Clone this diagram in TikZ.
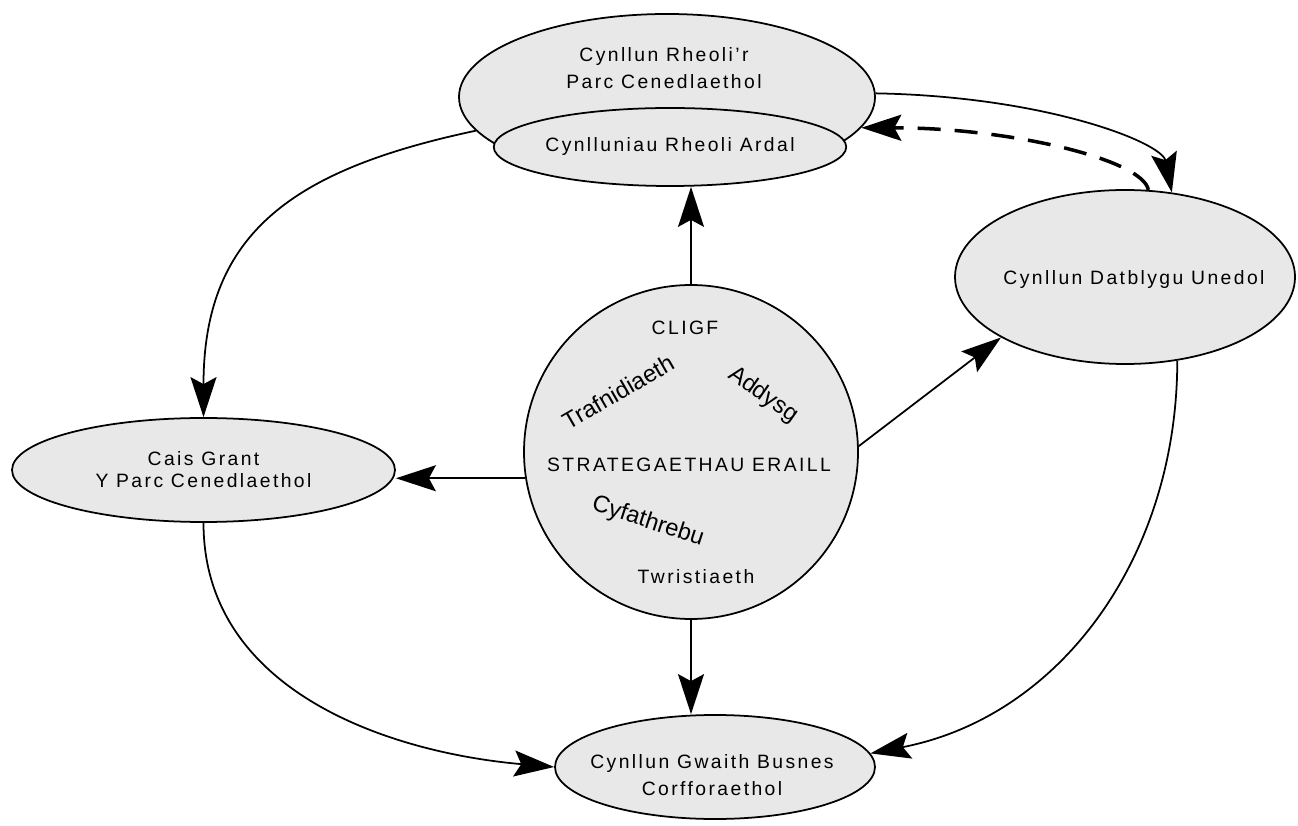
\documentclass[tikz,border=0pt]{standalone}
\usepackage{fontspec}
\setmainfont{Liberation Sans}
\newfontfamily\spacedfont[LetterSpace=12.5]{Liberation Sans}
\usetikzlibrary{shapes.geometric}
\usetikzlibrary{arrows.meta}
\definecolor{bubblegrey}{gray}{0.91}

\begin{document}
\begin{tikzpicture}[x=0.2mm, y=0.2mm,
    bubble/.style={ellipse, draw, fill=bubblegrey, line width=1pt, inner sep=0pt, align=center,
        font=\spacedfont\fontsize{11pt}{15.6pt}\selectfont},
    spaced/.style={align=center, font=\spacedfont\fontsize{11pt}{15.8pt}\selectfont},
    word/.style={font=\fontsize{13.5pt}{15pt}\selectfont},
    arr/.style={-{Stealth[length=8mm, width=5.2mm, inset=1.4mm]}, line width=1pt},
    back/.style={arr, line width=2pt, dash pattern=on 4.6mm off 2.8mm}]

    \useasboundingbox (0,0) rectangle (1298,825);

    % plans
    \node (rheoli)   [bubble, minimum width=83.2mm, minimum height=33.2mm] at (667,728) {};
    \node (ardal)    [bubble, minimum width=70.4mm, minimum height=15.6mm] at (670,678) {Cynlluniau Rheoli Ardal};
    \node (rheolitxt)[spaced] at (664,757) {Cynllun Rheoli’r\\Parc Cenedlaethol};
    \node (datblygu) [bubble, minimum width=68mm, minimum height=34.8mm] at (1125,548) {};
    \node (datbtxt)  [spaced] at (1134,545) {Cynllun Datblygu Unedol};
    \node (grant)    [bubble, minimum width=76.6mm, minimum height=20.8mm] at (203.5,355) {Cais Grant\\[-3pt]Y Parc Cenedlaethol};
    \node (gwaith)   [bubble, minimum width=64mm, minimum height=20.8mm] at (715,58) {};
    \node (gwaithtxt)[spaced] at (712,50) {Cynllun Gwaith Busnes\\[-0.5pt]Corfforaethol};

    % other strategies
    \node (strat) [circle, draw, fill=bubblegrey, line width=1pt, inner sep=0pt, minimum size=66.8mm] at (691,373) {};
    \node (cligf)  [spaced] at (685,497) {CLIGF};
    \node (trafn)  [word, rotate=30] at (618,433) {Trafnidiaeth};
    \node (addysg) [word, rotate=-35] at (763,430) {Addysg};
    \node (eraill) [spaced] at (689,360) {STRATEGAETHAU ERAILL};
    \node (cyfath) [word, rotate=-18] at (648,303) {Cyfathrebu};
    \node (twrist) [spaced] at (696,248) {Twristiaeth};

    % straight links out of the circle
    \draw[arr] (strat.north) -- (strat.north |- ardal.south);
    \draw[arr] (strat.189) -- (strat.189 -| grant.east);
    \draw[arr] (strat.2) -- (datblygu.206);
    \draw[arr] (strat.south) -- (strat.south |- gwaith.north);

    % curved links round the outside
    \draw[arr] (rheoli.190) to[out=192, in=90, looseness=1.2] (grant.north);
    \draw[arr] (rheoli.1) .. controls +(170,-3) and +(-10,50) .. (datblygu.61);
    \draw[back] (datblygu.75) .. controls +(-5,30) and +(150,0) .. (rheoli.-9);
    \draw[arr] (grant.south) to[out=-90, in=175] (gwaith.west);
    \draw[arr] (datblygu.-58) to[out=-90, in=11] (gwaith.5);

\end{tikzpicture}
\end{document}
